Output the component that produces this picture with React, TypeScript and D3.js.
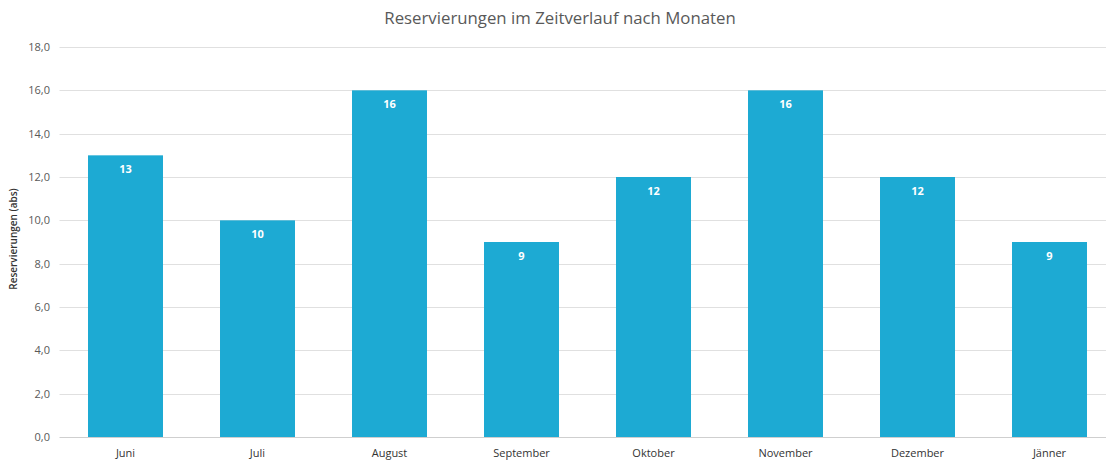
import React from "react";
import * as d3 from "d3";

const months = ["Juni", "Juli", "August", "September", "Oktober", "November", "Dezember", "Jänner"];
const reservations = [13, 10, 16, 9, 12, 16, 12, 9];
const yTicks = [0, 2, 4, 6, 8, 10, 12, 14, 16, 18];

const W = 1106;
const H = 460;
const font = "'Open Sans', 'Liberation Sans', sans-serif";

export default function App() {
  const x = d3.scaleBand<string>().domain(months).range([59.5, 1115.5]).paddingInner(0.432).paddingOuter(0.216);
  const y = d3.scaleLinear().domain([0, 18]).range([437, 47]);
  const fmt = (v: number) => v.toFixed(1).replace(".", ",");
  return (
    <svg width={W} height={H} style={{ position: "absolute", left: 0, top: 0, background: "#fff" }}>
      <text x={560} y={24} textAnchor="middle" fontFamily={font} fontSize={16.8} fill="#595959">
        Reservierungen im Zeitverlauf nach Monaten
      </text>
      {yTicks.map((t) => (
        <g key={t}>
          <line x1={59.5} x2={W} y1={Math.round(y(t)) + 0.5} y2={Math.round(y(t)) + 0.5} stroke={t === 0 ? "#cfcfcf" : "#e0e0e0"} strokeWidth={1} />
          <text x={50} y={y(t)} dy="0.35em" textAnchor="end" fontFamily={font} fontSize={11} fill="#595959">
            {fmt(t)}
          </text>
        </g>
      ))}
      <text transform={`translate(17,${y(9) - 3}) rotate(-90)`} textAnchor="middle" fontFamily={font} fontSize={10} fontWeight={600} fill="#333">
        Reservierungen (abs)
      </text>
      {months.map((m, i) => {
        const v = reservations[i];
        const bx = x(m)!;
        return (
          <g key={m}>
            <rect x={bx} y={y(v)} width={x.bandwidth()} height={y(0) - y(v)} fill="#1DAAD3" />
            <text x={bx + x.bandwidth() / 2} y={y(v) + 14} dy="0.35em" textAnchor="middle" fontFamily={font} fontSize={11} fontWeight={700} fill="#fff">
              {v}
            </text>
            <text x={bx + x.bandwidth() / 2} y={453} dy="0.35em" textAnchor="middle" fontFamily={font} fontSize={11} fill="#333">
              {m}
            </text>
          </g>
        );
      })}
    </svg>
  );
}
